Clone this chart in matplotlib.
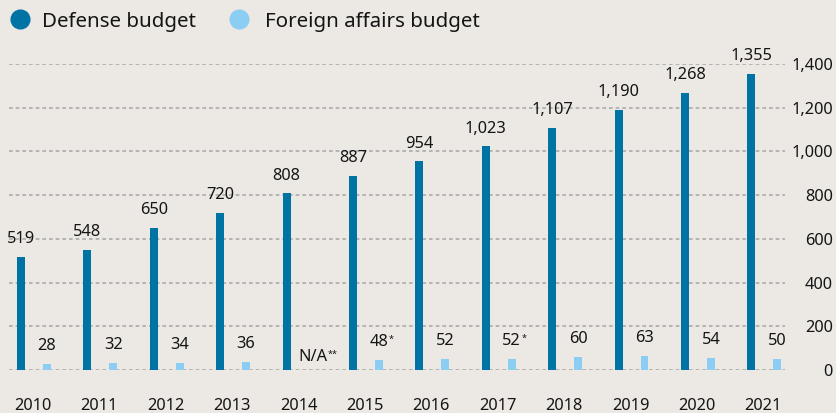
import matplotlib
matplotlib.use("Agg")
import matplotlib.pyplot as plt
from matplotlib.lines import Line2D
from matplotlib.ticker import FuncFormatter
import numpy as np

years = ["2010", "2011", "2012", "2013", "2014", "2015", "2016", "2017", "2018", "2019", "2020", "2021"]
defense = [519, 548, 650, 720, 808, 887, 954, 1023, 1107, 1190, 1268, 1355]
foreign = [28, 32, 34, 36, np.nan, 48, 52, 52, 60, 63, 54, 50]
foreign_notes = ["", "", "", "", "**", "*", "", "*", "", "", "", ""]
series_names = ["Defense budget", "Foreign affairs budget"]
yticks = [0, 200, 400, 600, 800, 1000, 1200, 1400]

BG = "#ECE9E4"
DARK = "#0073A5"
LIGHT = "#8CCDF3"
TXT = "#151515"
FONT = "Noto Sans"
plt.rcParams["font.family"] = [FONT, "DejaVu Sans"]

W, H = 836, 413
fig = plt.figure(figsize=(W / 100, H / 100), dpi=100, facecolor=BG)
ax = fig.add_axes([9 / W, (H - 370) / H, (785 - 9) / W, (370 - 64) / H], facecolor=BG)

x = np.arange(len(years))
fo = 0.39   # offset of foreign bar
bw = 0.12
ax.bar(x, defense, width=bw, color=DARK, zorder=3)
ax.bar(x + fo, np.nan_to_num(foreign), width=bw, color=LIGHT, zorder=3)

ax.set_xlim(-0.181, -0.181 + 776 / 66.4)
ax.set_ylim(0, 1400)
ax.set_yticks(yticks)
ax.yaxis.set_major_formatter(FuncFormatter(lambda v, p: f"{int(v):,}"))
ax.yaxis.tick_right()
ax.tick_params(axis="y", length=0, pad=34.5, labelsize=11.8, labelcolor=TXT)
for t in ax.get_yticklabels():
    t.set_horizontalalignment("right")
ax.set_xticks(x + 0.18)
ax.set_xticklabels(years)
ax.tick_params(axis="x", length=0, pad=20, labelsize=11.8, labelcolor=TXT)

ax.grid(axis="y", color="#ABABAB", linestyle=(0, (2.2, 1.8)), linewidth=1.2, zorder=0)
for s in ax.spines.values():
    s.set_visible(False)

for i, v in enumerate(defense):
    ax.annotate(f"{v:,}", xy=(x[i], v), xytext=(0, 10), textcoords="offset points",
                ha="center", va="baseline", fontsize=11.8, color=TXT)

for i, v in enumerate(foreign):
    if np.isnan(v):
        t = ax.annotate("N/A", xy=(x[i] + fo, 0), xytext=(0, 6.5), textcoords="offset points",
                        ha="center", va="baseline", fontsize=11.8, color=TXT)
    else:
        t = ax.annotate(f"{v:g}", xy=(x[i] + fo, v), xytext=(0, 10), textcoords="offset points",
                        ha="center", va="baseline", fontsize=11.8, color=TXT)
    if foreign_notes[i]:
        ax.annotate(foreign_notes[i], xy=(1, 1), xycoords=t, xytext=(0.3, -1),
                    textcoords="offset points", ha="left", va="top", fontsize=6.5, color=TXT)

# legend
for cx, tx, name, col in [(20, 42, series_names[0], DARK), (239, 265, series_names[1], LIGHT)]:
    fig.add_artist(Line2D([cx / W], [1 - 19 / H], marker="o", markersize=13.5, color=col,
                          linestyle="none", transform=fig.transFigure))
    fig.text(tx / W, 1 - 19 / H, name, ha="left", va="center_baseline", fontsize=14.8, color=TXT)

fig.savefig("out.png", dpi=100, facecolor=BG)
